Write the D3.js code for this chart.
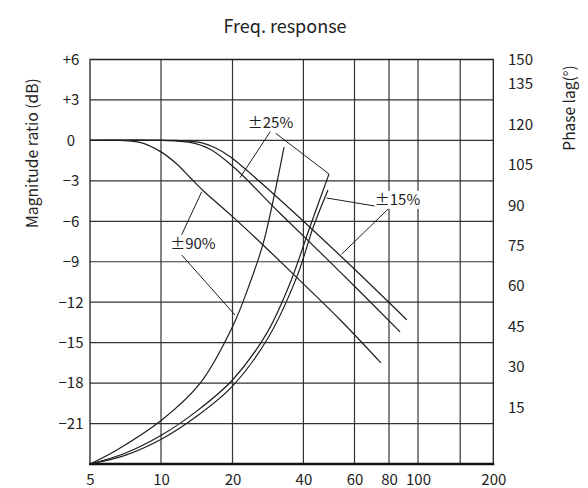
<!DOCTYPE html>
<html><head><meta charset="utf-8">
<script src="https://cdn.jsdelivr.net/npm/d3@7"></script>
<style>body{margin:0;background:#fff}svg{display:block}text{font-family:"Noto Sans CJK SC","Noto Sans",sans-serif;fill:#222}</style>
</head><body>
<svg id="c" width="588" height="488"></svg>
<script>
// ---- data ----
const freqTicks = [5, 10, 20, 40, 60, 80, 100, 150, 200];
const freqTickLabels = ["5", "10", "20", "40", "60", "80", "100", "", "200"];
const dbTicks = [6, 3, 0, -3, -6, -9, -12, -15, -18, -21];
const dbTickLabels = ["+6", "+3", "0", "−3", "−6", "−9", "−12", "−15", "−18", "−21"];
const phaseTicks = [150, 135, 120, 105, 90, 75, 60, 45, 30, 15];

// magnitude curves (freq Hz, dB)
const magFreq90 = [5, 6.7, 8.15, 10, 11.65, 13.25, 15.1, 17.5, 20, 26.2, 36.9, 53.5, 74.8];
const magDb90   = [0, 0, -0.15, -0.85, -1.75, -2.75, -3.75, -4.75, -5.65, -7.55, -10.05, -13.3, -16.5];
const magFreq25 = [5, 10, 13.25, 16.1, 20, 31.8, 53.5, 87.1];
const magDb25   = [0, 0, -0.15, -0.65, -1.9, -5.4, -9.75, -14.2];
const magFreq15 = [5, 11.45, 14.6, 16.9, 19.5, 31.8, 54.2, 91.7];
const magDb15   = [0, 0, -0.15, -0.55, -1.2, -4.4, -8.65, -13.3];

// phase curves (freq Hz, degrees)
const phFreq90 = [5, 6.5, 10.07, 14.6, 20, 23.7, 27, 29.8, 33.1];
const phDeg90  = [0, 5.2, 16.3, 29.9, 50.9, 67, 81.8, 97.9, 117.5];
const phFreq25 = [5, 7.04, 10.07, 14.18, 20, 27.94, 35.09, 42.15, 49.0];
const phDeg25  = [0, 4.0, 10.75, 19.7, 31.15, 48.46, 67.0, 88.0, 107.5];
const phFreq15 = [5, 7.04, 10.07, 14.18, 20, 28.29, 37.47, 43.27, 48.62];
const phDeg15  = [0, 3.2, 9.27, 17.8, 28.9, 46.7, 69.3, 87.9, 101.6];

// annotations: label text, label position (freq, dB), leader lines [[f1,db1,f2,db2],...]
const annoText = ["±25%", "±90%", "±15%"];
const annoFreq = [29.0, 13.62, 85.4];
const annoDb   = [0.95, -8.04, -4.78];
const annoLeaders = [
  [[29.06, 0.70, 21.51, -2.77], [30.5, 0.53, 49.0, -2.49]],
  [[12.02, -7.26, 14.84, -3.81], [12.22, -8.5, 20.49, -12.95]],
  [[71.2, -4.87, 48.1, -4.27], [80.6, -4.96, 54.2, -8.43]]
];

// ---- layout ----
const FONT = '"Noto Sans CJK SC","Noto Sans",sans-serif';
const L = 90, R = 493.3, T = 59.5, B = 464;
const svg = d3.select("#c");
const x = d3.scaleLog().domain(freqTicks).range([L, 161, 232.5, 303.4, 354.5, 389, 418, 460.2, R]);
const y = d3.scaleLinear().domain([-24, 6]).range([B, T]);
const yP = d3.scaleLinear().domain([0, 150]).range([B, T]);

// grid
const g = svg.append("g");
g.selectAll(".vg").data(freqTicks.slice(1, -1)).join("line")
  .attr("x1", d => x(d)).attr("x2", d => x(d)).attr("y1", T).attr("y2", B)
  .attr("stroke", "#333").attr("stroke-width", 1.2);
g.selectAll(".hg").data(dbTicks.slice(1)).join("line")
  .attr("x1", L).attr("x2", R).attr("y1", d => y(d)).attr("y2", d => y(d))
  .attr("stroke", "#333").attr("stroke-width", 1.2);
// frame
g.append("path").attr("d", `M${L},${B}V${T}H${R}V${B}`).attr("fill", "none")
  .attr("stroke", "#222").attr("stroke-width", 1.3);
g.append("line").attr("x1", L - 1).attr("x2", R + 1).attr("y1", B).attr("y2", B)
  .attr("stroke", "#111").attr("stroke-width", 2.6);

// axes
const fs = 15;
const ax = svg.append("g").attr("transform", `translate(0,${B})`)
  .call(d3.axisBottom(x).tickValues(freqTicks).tickFormat((d, i) => freqTickLabels[i]).tickSize(0).tickPadding(10));
ax.select(".domain").remove();
ax.selectAll("text").attr("font-size", fs).style("font-family", FONT).attr("fill", "#222");

const ay = svg.append("g").attr("transform", `translate(${L},0)`)
  .call(d3.axisLeft(y).tickValues(dbTicks).tickFormat((d, i) => dbTickLabels[i]).tickSize(0).tickPadding(0));
ay.select(".domain").remove();
ay.selectAll("text").attr("font-size", fs).attr("text-anchor", "middle").attr("x", -19)
  .style("font-family", FONT).attr("fill", "#222");

svg.append("g").selectAll("text").data(phaseTicks).join("text")
  .attr("x", 508).attr("y", d => Math.max(yP(d) - 16, yP(150))).attr("dy", "0.35em")
  .attr("font-size", fs).text(d => d);

// titles
svg.append("text").attr("x", 285).attr("y", 33).attr("text-anchor", "middle").attr("font-size", 18).text("Freq. response");
svg.append("text").attr("transform", "translate(38,153) rotate(-90)").attr("text-anchor", "middle")
  .attr("font-size", 15.7).text("Magnitude ratio (dB)");
svg.append("text").attr("transform", "translate(575,108) rotate(-90)").attr("text-anchor", "middle")
  .attr("font-size", 15.5).text("Phase lag(°)");

// curves
const lineDb = d3.line().x(d => x(d[0])).y(d => y(d[1])).curve(d3.curveCatmullRom.alpha(0.5));
const linePh = d3.line().x(d => x(d[0])).y(d => yP(d[1])).curve(d3.curveCatmullRom.alpha(0.5));
const zip = (a, b) => a.map((v, i) => [v, b[i]]);
const cg = svg.append("g").attr("fill", "none").attr("stroke", "#1e1e1e").attr("stroke-width", 1.2);
[[magFreq90, magDb90], [magFreq25, magDb25], [magFreq15, magDb15]].forEach(([f, v]) =>
  cg.append("path").attr("d", lineDb(zip(f, v))));
[[phFreq90, phDeg90], [phFreq25, phDeg25], [phFreq15, phDeg15]].forEach(([f, v]) =>
  cg.append("path").attr("d", linePh(zip(f, v))));

// annotations
const an = svg.append("g");
annoLeaders.forEach(ls => ls.forEach(l =>
  an.append("line").attr("x1", x(l[0])).attr("y1", y(l[1])).attr("x2", x(l[2])).attr("y2", y(l[3]))
    .attr("stroke", "#1e1e1e").attr("stroke-width", 1)));
annoText.forEach((t, i) => {
  const bx = x(annoFreq[i]), by = y(annoDb[i]);
  an.append("rect").attr("x", bx - 23).attr("y", by - 14).attr("width", 46).attr("height", 18).attr("fill", "#fff");
  an.append("text").attr("x", bx).attr("y", by).attr("text-anchor", "middle").attr("font-size", 15).text(t);
});
</script>
</body></html>
